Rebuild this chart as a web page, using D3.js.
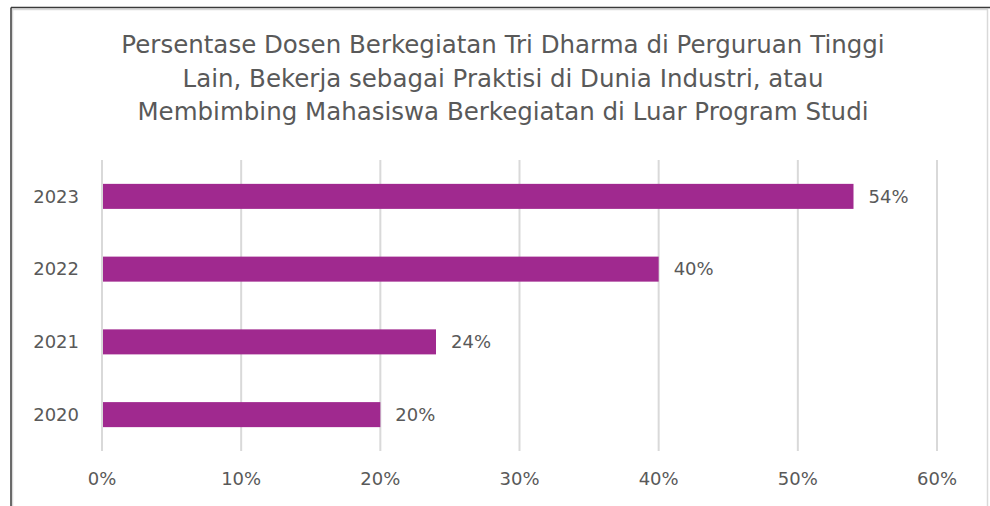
<!DOCTYPE html>
<html>
<head>
  <meta charset="UTF-8" />
  <script src="https://d3js.org/d3.v7.min.js"></script>
  <style>
    body { margin: 0; background: #fff; }
    text { font-family: "DejaVu Sans", sans-serif; fill: #595959; }
    .grid line { stroke: #d9d9d9; stroke-width: 2px; }
  </style>
</head>
<body>
  <svg id="chart" width="990" height="506"></svg>
  <script>
    // data
    const years = ["2023", "2022", "2021", "2020"];
    const values = [54, 40, 24, 20];
    const ticks = [0, 10, 20, 30, 40, 50, 60];
    const titleLines = [
      "Persentase Dosen Berkegiatan Tri Dharma di Perguruan Tinggi",
      "Lain, Bekerja sebagai Praktisi di Dunia Industri, atau",
      "Membimbing Mahasiswa Berkegiatan di Luar Program Studi"
    ];

    const width = 990, height = 506;
    const svg = d3.select("#chart");

    // frame: dark edge at top/left, light chart border inside
    svg.append("rect").attr("x", 12.5).attr("y", 9.5).attr("width", 975).attr("height", 520)
      .attr("fill", "#fff").attr("stroke", "#d9d9d9").attr("stroke-width", 1.5);
    svg.append("line").attr("x1", 11).attr("x2", width).attr("y1", 7.5).attr("y2", 7.5)
      .attr("stroke", "#3a3a3a").attr("stroke-width", 1.5);
    svg.append("line").attr("x1", 11).attr("x2", 11).attr("y1", 7.5).attr("y2", height)
      .attr("stroke", "#3a3a3a").attr("stroke-width", 1.5);

    // title
    svg.append("g").selectAll("text")
      .data(titleLines)
      .join("text")
      .attr("x", 503)
      .attr("y", (d, i) => 53 + i * 33.5)
      .attr("text-anchor", "middle")
      .style("font-size", "24.5px")
      .text(d => d);

    const x = d3.scaleLinear().domain([0, 60]).range([102, 937]);
    const y = d3.scaleBand().domain(years).range([160, 451]).paddingInner(0.656).paddingOuter(0.328);

    // gridlines
    svg.append("g").attr("class", "grid")
      .selectAll("line")
      .data(ticks)
      .join("line")
      .attr("x1", d => x(d)).attr("x2", d => x(d))
      .attr("y1", 160).attr("y2", 451);

    // x tick labels
    svg.append("g").selectAll("text")
      .data(ticks)
      .join("text")
      .attr("x", d => x(d))
      .attr("y", 485)
      .attr("text-anchor", "middle")
      .style("font-size", "18px")
      .text(d => d + "%");

    // y labels
    svg.append("g").selectAll("text")
      .data(years)
      .join("text")
      .attr("x", 79)
      .attr("y", d => y(d) + y.bandwidth() / 2)
      .attr("dy", "0.35em")
      .attr("text-anchor", "end")
      .style("font-size", "18px")
      .text(d => d);

    // bars
    svg.append("g").selectAll("rect")
      .data(years)
      .join("rect")
      .attr("x", x(0) + 1)
      .attr("y", d => y(d))
      .attr("width", (d, i) => x(values[i]) - x(0) - 1)
      .attr("height", y.bandwidth())
      .attr("fill", "#a0298f");

    // value labels
    svg.append("g").selectAll("text")
      .data(years)
      .join("text")
      .attr("x", (d, i) => x(values[i]) + 15)
      .attr("y", d => y(d) + y.bandwidth() / 2)
      .attr("dy", "0.35em")
      .style("font-size", "18px")
      .text((d, i) => values[i] + "%");
  </script>
</body>
</html>
